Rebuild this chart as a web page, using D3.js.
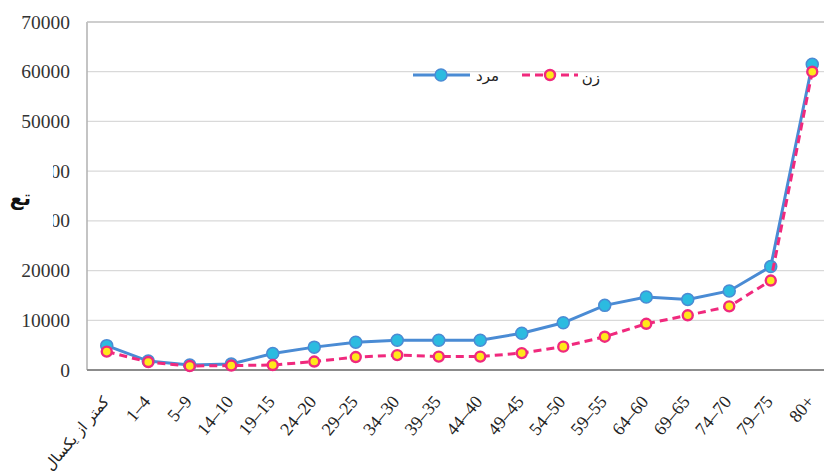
<!DOCTYPE html>
<html>
<head>
<meta charset="utf-8">
<script src="https://cdn.jsdelivr.net/npm/d3@7"></script>
<style>
  body { margin: 0; background: #fff; }
  svg { display: block; }
  .serif { font-family: "Liberation Serif", "Times New Roman", "DejaVu Serif", serif; }
  .fa { font-family: "DejaVu Sans", sans-serif; }
</style>
</head>
<body>
<script>
// age groups (x axis)
var categories = ["کمتر از یکسال", "1–4", "5–9", "14–10", "19–15", "24–20", "29–25", "34–30",
    "39–35", "44–40", "49–45", "54–50", "59–55", "64–60", "69–65", "74–70", "79–75", "80+"];
// مرد (male)
var maleValues = [4900, 1800, 1000, 1200, 3300, 4600, 5600, 6000, 6000, 6000, 7400, 9500,
    13000, 14700, 14200, 15900, 20800, 61500];
// زن (female)
var femaleValues = [3700, 1600, 800, 900, 1000, 1700, 2600, 3000, 2700, 2700, 3400, 4700,
    6700, 9300, 11000, 12800, 18000, 60000];
var yTicks = [0, 10000, 20000, 30000, 40000, 50000, 60000, 70000];

var W = 824, H = 473;
var margin = { top: 22, left: 86, bottom: 103 };
var plotRight = 833;

var svg = d3.select("body").append("svg")
    .attr("width", W)
    .attr("height", H);

var x = d3.scaleBand()
    .domain(categories)
    .range([margin.left, plotRight])
    .padding(0);
var y = d3.scaleLinear()
    .domain([0, 70000])
    .range([H - margin.bottom, margin.top]);

function cx(i) { return x(categories[i]) + x.bandwidth() / 2; }

// gridlines
svg.append("g").attr("class", "grid")
    .selectAll("line")
    .data(yTicks.filter(function (d) { return d > 0; }))
    .enter().append("line")
    .attr("x1", margin.left + 1).attr("x2", W)
    .attr("y1", function (d) { return y(d); })
    .attr("y2", function (d) { return y(d); })
    .attr("stroke", "#d9d9d9")
    .attr("stroke-width", 1.2);

// plot frame (left + top), bottom axis
svg.append("line")
    .attr("x1", margin.left + 1).attr("x2", margin.left + 1)
    .attr("y1", y(70000)).attr("y2", y(0))
    .attr("stroke", "#b0b0b0").attr("stroke-width", 1.5);
svg.append("line")
    .attr("x1", margin.left + 1).attr("x2", W)
    .attr("y1", y(70000)).attr("y2", y(70000))
    .attr("stroke", "#c4c4c4").attr("stroke-width", 1.5);
svg.append("line")
    .attr("x1", margin.left + 1).attr("x2", W)
    .attr("y1", y(0)).attr("y2", y(0))
    .attr("stroke", "#8c8c8c").attr("stroke-width", 1.8);

// y tick labels
svg.append("g").attr("class", "y_axis")
    .selectAll("text")
    .data(yTicks)
    .enter().append("text")
    .attr("class", "serif")
    .attr("x", 70)
    .attr("y", function (d) { return y(d) + 6.5; })
    .attr("text-anchor", "end")
    .attr("font-size", 19.5)
    .attr("fill", "#333")
    .text(function (d) { return d; });

// white box hiding part of the y labels + axis title fragment
svg.append("rect")
    .attr("x", 0).attr("y", 150).attr("width", 53).attr("height", 88)
    .attr("fill", "#fff");
svg.append("text")
    .attr("class", "fa")
    .attr("x", 31).attr("y", 205)
    .attr("text-anchor", "end")
    .attr("font-weight", "bold")
    .attr("font-size", 20)
    .attr("fill", "#111")
    .text("تع");

// x tick labels, rotated
svg.append("g").attr("class", "x_axis")
    .selectAll("text")
    .data(categories)
    .enter().append("text")
    .attr("class", function (d, i) { return i === 0 ? "fa" : "serif"; })
    .attr("transform", function (d, i) {
        return "translate(" + (cx(i) + 3) + "," + (y(0) + 32) + ") rotate(-50)";
    })
    .attr("text-anchor", "end")
    .attr("font-size", function (d, i) { return i === 0 ? 15 : 18; })
    .attr("fill", "#222")
    .text(function (d) { return d; });

var line = d3.line()
    .x(function (d, i) { return cx(i); })
    .y(function (d) { return y(d); });

// male series
svg.append("path")
    .datum(maleValues)
    .attr("d", line)
    .attr("fill", "none")
    .attr("stroke", "#4a8bd4")
    .attr("stroke-width", 3);
svg.append("g").selectAll("circle")
    .data(maleValues)
    .enter().append("circle")
    .attr("cx", function (d, i) { return cx(i); })
    .attr("cy", function (d) { return y(d); })
    .attr("r", 6)
    .attr("fill", "#2bbbe0")
    .attr("stroke", "#4a8bd4")
    .attr("stroke-width", 1.5);

// female series
svg.append("path")
    .datum(femaleValues)
    .attr("d", line)
    .attr("fill", "none")
    .attr("stroke", "#f0297d")
    .attr("stroke-width", 3)
    .attr("stroke-dasharray", "8,5");
svg.append("g").selectAll("circle")
    .data(femaleValues)
    .enter().append("circle")
    .attr("cx", function (d, i) { return cx(i); })
    .attr("cy", function (d) { return y(d); })
    .attr("r", 5)
    .attr("fill", "#ffe81a")
    .attr("stroke", "#f0297d")
    .attr("stroke-width", 2.4);

// legend
var legend = svg.append("g").attr("class", "legend");
legend.append("line")
    .attr("x1", 413).attr("x2", 470).attr("y1", 75).attr("y2", 75)
    .attr("stroke", "#4a8bd4").attr("stroke-width", 3);
legend.append("circle")
    .attr("cx", 441).attr("cy", 75).attr("r", 6)
    .attr("fill", "#2bbbe0").attr("stroke", "#4a8bd4").attr("stroke-width", 1.5);
legend.append("text")
    .attr("class", "fa")
    .attr("x", 499).attr("y", 81)
    .attr("text-anchor", "end")
    .attr("font-size", 15)
    .attr("fill", "#222")
    .text("مرد");
legend.append("line")
    .attr("x1", 522).attr("x2", 578).attr("y1", 75).attr("y2", 75)
    .attr("stroke", "#f0297d").attr("stroke-width", 3)
    .attr("stroke-dasharray", "8,5");
legend.append("circle")
    .attr("cx", 550).attr("cy", 75).attr("r", 5)
    .attr("fill", "#ffe81a").attr("stroke", "#f0297d").attr("stroke-width", 2.4);
legend.append("text")
    .attr("class", "fa")
    .attr("x", 600).attr("y", 83)
    .attr("text-anchor", "end")
    .attr("font-size", 15)
    .attr("fill", "#222")
    .text("زن");
</script>
</body>
</html>
